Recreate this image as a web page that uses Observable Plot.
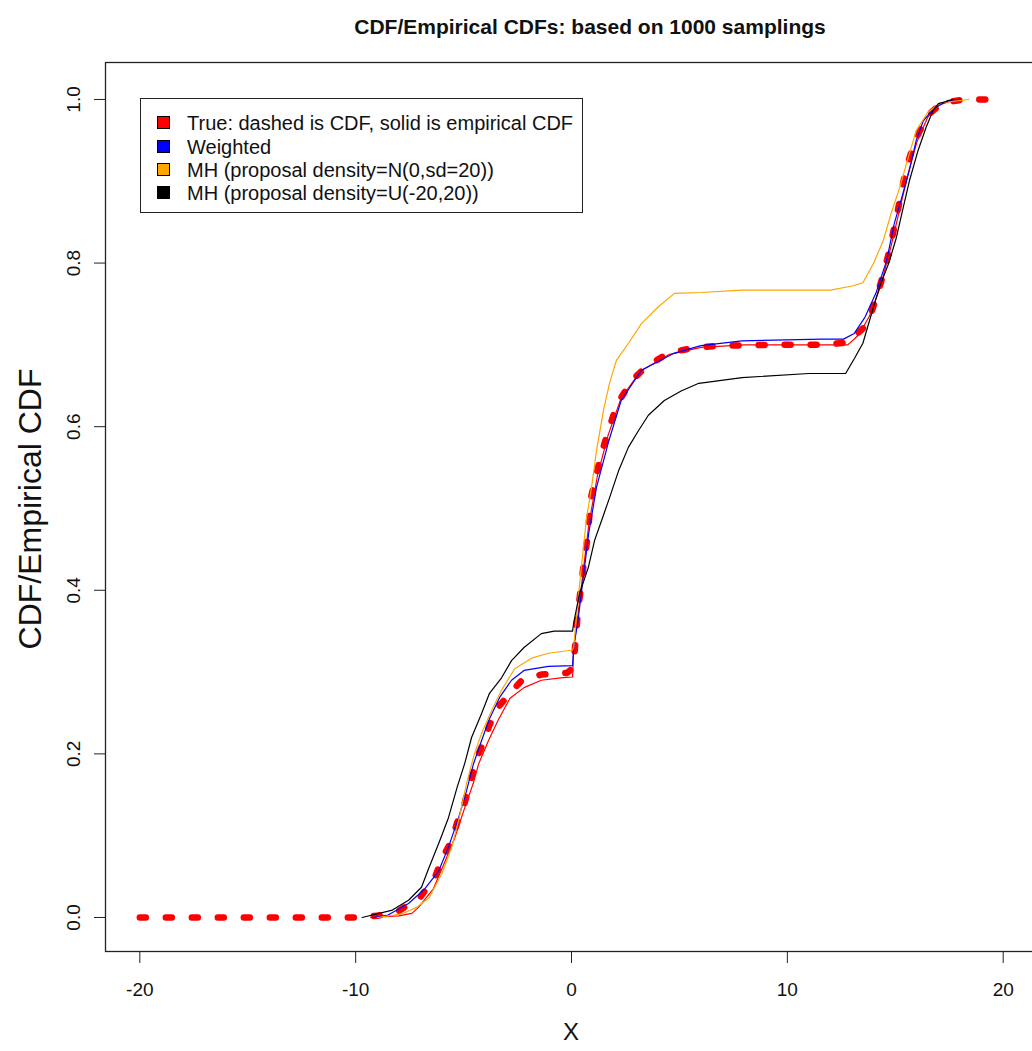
<!DOCTYPE html>
<html>
<head>
<meta charset="utf-8">
<script src="https://cdn.jsdelivr.net/npm/d3@7"></script>
<script src="https://cdn.jsdelivr.net/npm/@observablehq/plot@0.6"></script>
<style>
  html, body { margin: 0; padding: 0; background: #fff; }
  #wrap { position: relative; width: 1032px; height: 1051px; overflow: hidden; font-family: "Liberation Sans", Arial, sans-serif; }
  #title { position: absolute; left: 0; width: 1180px; top: 15px; text-align: center; font-weight: bold; font-size: 21px; color: #111; }
  #xlab { position: absolute; left: 0; width: 1142px; top: 1018px; text-align: center; font-size: 24px; color: #111; }
  #ylab { position: absolute; left: 30px; top: 509px; transform: translate(-50%, -50%) rotate(-90deg); white-space: nowrap; font-size: 32px; color: #111; }
  #legend { position: absolute; left: 140px; top: 98px; width: 441px; height: 113px; border: 1px solid #222; background: #fff; }
  .row { position: absolute; left: 0; height: 20px; display: flex; align-items: center; font-size: 20px; color: #111; }
  .sw { position: absolute; left: 16px; width: 11px; height: 11px; border: 1px solid #000; }
  .lt { position: absolute; left: 46px; white-space: nowrap; line-height: 20px; }
  #chart { position: absolute; left: 0; top: 0; }
  #chart svg { max-width: none !important; width: 1075px !important; height: 1051px !important; }
</style>
</head>
<body>
<div id="wrap">
  <div id="chart"></div>
  <div id="title"></div>
  <div id="xlab"></div>
  <div id="ylab"></div>
  <div id="legend"></div>
</div>
<script>
// ---- data ----
const titleText = "CDF/Empirical CDFs: based on 1000 samplings";
const xLabel = "X";
const yLabel = "CDF/Empirical CDF";
const xTicks = [-20, -10, 0, 10, 20];
const yTicks = [0, 0.2, 0.4, 0.6, 0.8, 1.0];

const legendLabels = [
  "True: dashed is CDF, solid is empirical CDF",
  "Weighted",
  "MH (proposal density=N(0,sd=20))",
  "MH (proposal density=U(-20,20))"
];
const legendColors = ["#ff0000", "#0000ff", "#ffa500", "#000000"];

// true CDF (dashed)
const trueX = [-20, -10, -9, -8, -7, -6.3, -6.0, -5.55, -5.3, -4.95, -4.7, -4.45, -4.1, -3.8, -3.4, -2.85, -2.3, -1.4, -0.2, 0.05, 0.14, 0.3, 0.46, 0.6, 0.74, 0.9, 1.16, 1.39, 1.67, 1.94, 2.31, 2.78, 3.4, 4.17, 5.0, 5.86, 7, 9, 11.7, 12.8, 13.5, 13.9, 14.2, 14.45, 14.7, 14.9, 15.1, 15.3, 15.5, 15.8, 16.1, 16.6, 17.2, 18.2, 19.5];
const trueY = [0, 0, 0.002, 0.008, 0.025, 0.051, 0.072, 0.094, 0.116, 0.14, 0.164, 0.19, 0.213, 0.235, 0.257, 0.274, 0.29, 0.297, 0.299, 0.305, 0.323, 0.375, 0.408, 0.44, 0.463, 0.513, 0.543, 0.567, 0.592, 0.614, 0.636, 0.656, 0.672, 0.685, 0.693, 0.697, 0.699, 0.7, 0.7, 0.703, 0.72, 0.74, 0.764, 0.787, 0.812, 0.837, 0.862, 0.889, 0.916, 0.94, 0.96, 0.983, 0.996, 1.0, 1.0];

// true: empirical CDF (solid red)
const redX = [-9.3, -8, -7.4, -7.1, -6.4, -5.9, -5.4, -4.95, -4.55, -4.3, -3.85, -3.4, -2.85, -2.2, -1.4, -0.5, 0.05, 0.1, 0.3, 0.8, 1.2, 1.7, 2.3, 3.2, 4.5, 6, 8, 12.8, 13.3, 13.8, 14.3, 14.8, 15.2, 15.6, 16.0, 16.5, 17.0, 17.8];
const redY = [0, 0.002, 0.005, 0.012, 0.035, 0.066, 0.098, 0.134, 0.164, 0.188, 0.216, 0.241, 0.268, 0.281, 0.29, 0.293, 0.294, 0.33, 0.37, 0.48, 0.54, 0.59, 0.635, 0.668, 0.688, 0.697, 0.70, 0.70, 0.712, 0.735, 0.77, 0.82, 0.865, 0.91, 0.948, 0.978, 0.993, 1.0];

// weighted (blue)
const blueX = [-9.2, -8.5, -7.55, -6.8, -6.15, -5.7, -5.23, -4.86, -4.54, -4.17, -3.8, -3.33, -2.78, -2.2, -1.07, 0.05, 0.1, 0.3, 0.8, 1.16, 1.7, 2.3, 3.24, 4.77, 6.0, 7.9, 11.6, 12.6, 13.1, 13.6, 14.1, 14.6, 14.95, 15.3, 15.65, 15.97, 16.3, 16.8, 17.45, 18.05];
const blueY = [0, 0.003, 0.017, 0.035, 0.057, 0.086, 0.122, 0.155, 0.188, 0.216, 0.243, 0.269, 0.29, 0.302, 0.307, 0.308, 0.33, 0.363, 0.47, 0.526, 0.58, 0.632, 0.669, 0.69, 0.699, 0.705, 0.707, 0.707, 0.714, 0.734, 0.763, 0.803, 0.848, 0.88, 0.913, 0.95, 0.974, 0.989, 0.999, 1.0];

// MH N(0, sd=20) (orange)
const orangeX = [-9.0, -7.9, -7.2, -6.6, -6.0, -5.55, -5.2, -4.86, -4.5, -4.17, -3.7, -3.24, -2.63, -1.85, -1.07, 0.05, 0.1, 0.3, 0.55, 0.7, 0.93, 1.16, 1.48, 1.76, 2.08, 2.64, 3.24, 4.0, 4.77, 6.0, 7.9, 12.0, 13.0, 13.5, 14.0, 14.45, 14.8, 15.2, 15.6, 15.97, 16.5, 17.1, 18.4];
const orangeY = [0, 0.004, 0.012, 0.024, 0.054, 0.086, 0.122, 0.164, 0.2, 0.225, 0.253, 0.278, 0.304, 0.317, 0.323, 0.327, 0.33, 0.388, 0.452, 0.489, 0.526, 0.571, 0.62, 0.653, 0.681, 0.702, 0.726, 0.746, 0.763, 0.764, 0.767, 0.767, 0.772, 0.776, 0.8, 0.828, 0.86, 0.892, 0.929, 0.962, 0.984, 0.996, 1.0];

// MH U(-20,20) (black)
const blackX = [-9.7, -8.3, -7.55, -6.95, -6.6, -6.1, -5.7, -5.3, -4.95, -4.63, -4.17, -3.8, -3.24, -2.78, -2.2, -1.4, -0.8, 0.05, 0.1, 0.37, 0.78, 1.07, 1.39, 1.76, 2.18, 2.64, 3.1, 3.56, 4.3, 5.1, 5.9, 7.9, 11.0, 12.7, 13.1, 13.5, 13.9, 14.26, 14.7, 15.05, 15.37, 15.65, 16.06, 16.43, 16.76, 17.0, 17.7];
const blackY = [0, 0.009, 0.021, 0.037, 0.061, 0.094, 0.122, 0.159, 0.188, 0.22, 0.249, 0.274, 0.293, 0.314, 0.33, 0.347, 0.35, 0.35, 0.36, 0.396, 0.428, 0.461, 0.485, 0.513, 0.546, 0.575, 0.595, 0.614, 0.632, 0.644, 0.653, 0.66, 0.665, 0.665, 0.683, 0.702, 0.738, 0.77, 0.8, 0.831, 0.868, 0.9, 0.938, 0.966, 0.987, 0.995, 1.0];

// ---- build tables ----
const zip = (xs, ys) => xs.map((x, i) => ({x, y: ys[i]}));
const trueData = zip(trueX, trueY);
const redData = zip(redX, redY);
const blueData = zip(blueX, blueY);
const orangeData = zip(orangeX, orangeY);
const blackData = zip(blackX, blackY);

const plot = Plot.plot({
  width: 1075,
  height: 1051,
  marginLeft: 105,
  marginRight: 0,
  marginTop: 62,
  marginBottom: 100,
  style: {fontFamily: "'Liberation Sans', Arial, sans-serif", fontSize: "19px", color: "#111", background: "transparent"},
  x: {domain: [-21.59, 23.35]},
  y: {domain: [-0.0416, 1.0452]},
  marks: [
    Plot.line(trueData, {x: "x", y: "y", stroke: "#ff0000", strokeWidth: 6.5, strokeDasharray: "6,20", strokeLinecap: "round"}),
    Plot.line(redData, {x: "x", y: "y", stroke: "#ff0000", strokeWidth: 1.2}),
    Plot.line(blueData, {x: "x", y: "y", stroke: "#0000ff", strokeWidth: 1.2}),
    Plot.line(orangeData, {x: "x", y: "y", stroke: "#ffa500", strokeWidth: 1.2}),
    Plot.line(blackData, {x: "x", y: "y", stroke: "#000000", strokeWidth: 1.2}),
    Plot.frame({stroke: "#222", strokeWidth: 1.3}),
    Plot.axisX({ticks: xTicks, tickSize: 12, tickPadding: 19, fontSize: 19, tickFormat: d => String(d), label: null, stroke: "#222"}),
    Plot.axisY({ticks: yTicks, tickSize: 11, tickPadding: 15, tickRotate: -90, fontSize: 19, tickFormat: d => d.toFixed(1), label: null, stroke: "#222"})
  ]
});
document.getElementById("chart").appendChild(plot);

document.getElementById("title").textContent = titleText;
document.getElementById("xlab").textContent = xLabel;
document.getElementById("ylab").textContent = yLabel;

const legend = document.getElementById("legend");
const rowTops = [14, 38, 61, 84];
legendLabels.forEach((lab, i) => {
  const row = document.createElement("div");
  row.className = "row";
  row.style.top = rowTops[i] + "px";
  const sw = document.createElement("div");
  sw.className = "sw";
  sw.style.background = legendColors[i];
  sw.style.top = "3px";
  const t = document.createElement("div");
  t.className = "lt";
  t.textContent = lab;
  row.appendChild(sw);
  row.appendChild(t);
  legend.appendChild(row);
});
</script>
</body>
</html>
